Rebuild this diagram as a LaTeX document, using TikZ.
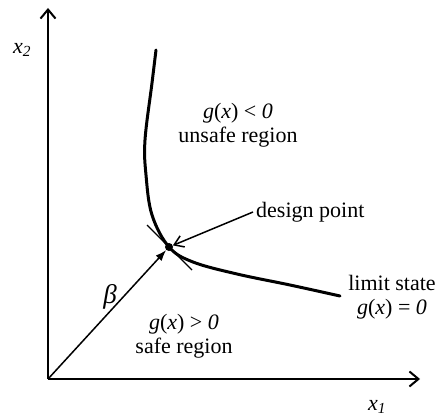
\documentclass[tikz,border=0pt]{standalone}
\usepackage{fontspec}
\setmainfont{Liberation Serif}
\usetikzlibrary{arrows.meta}
\begin{document}
\begin{tikzpicture}[x=1pt,y=-1pt,
  lbl/.style={font=\fontsize{22}{24}\selectfont, inner sep=0pt, align=center},
  axis/.style={line width=2pt, -{Straight Barb[length=9pt,width=15pt]}},
  curve/.style={line width=3pt, line cap=round},
  betaarrow/.style={line width=1.5pt, -{Latex[length=11pt,width=8pt]}},
  ptrarrow/.style={line width=1.5pt, -{Straight Barb[length=9pt,width=12pt]}},
  tangent/.style={line width=1.3pt}]
\useasboundingbox (0,0) rectangle (441,417);
\coordinate (O) at (48,379);
\coordinate (ytip) at (48,8);
\coordinate (xtip) at (420,379);
\draw[axis] (O) -- (ytip);
\draw[axis] (O) -- (xtip);
\node[lbl] (x2) at (22,50) {\textit{x}\textsubscript{\textit{2}}};
\node[lbl] (x1) at (377,407) {\textit{x}\textsubscript{\textit{1}}};
\draw[curve] plot[smooth,tension=0.6] coordinates {(156,50) (152,83) (145,140) (146,175) (152,215) (169,247) (193,262) (237,274) (290,285) (340,296)};
\node[circle, fill, inner sep=0pt, minimum size=8pt] (dp) at (169,247) {};
\coordinate (t1) at (147,225);
\coordinate (t2) at (192,270);
\draw[tangent] (t1) -- (t2);
\draw[betaarrow] (O) -- (dp);
\node[lbl] (dlab) [anchor=west] at (256,212) {design point};
\draw[ptrarrow] ([xshift=-3pt]dlab.west) -- (dp);
\node[lbl, font=\fontsize{27}{29}\selectfont] (beta) at (110,297) {\textit{β}};
\node[lbl] (unsafe) at (238,125) {\textit{g}(\textit{x}) < \textit{0}\\unsafe region};
\node[lbl] (safe) at (184,336) {\textit{g}(\textit{x}) > \textit{0}\\safe region};
\node[lbl] (limit) at (392,297) {limit state\\\textit{g}(\textit{x}) = \textit{0}};
\end{tikzpicture}
\end{document}
